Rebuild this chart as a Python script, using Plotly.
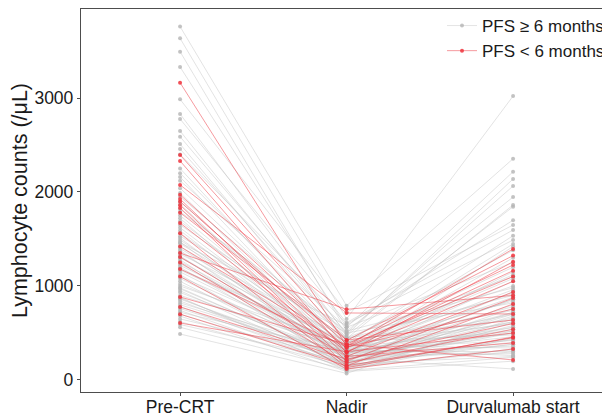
import plotly.graph_objects as go

categories = ["Pre-CRT", "Nadir", "Durvalumab start"]

# PFS >= 6 months (gray)
gray_pre = [3760, 3635, 3493, 3330, 2986, 2830, 2777, 2649, 2588, 2510,
            2457, 2400, 2250, 2200, 2160, 2120, 2040, 1990, 1950, 1900,
            1870, 1820, 1790, 1750, 1720, 1690, 1650, 1620, 1590, 1560,
            1530, 1510, 1490, 1470, 1450, 1420, 1400, 1380, 1360, 1340,
            1320, 1300, 1280, 1260, 1240, 1220, 1200, 1180, 1150, 1120,
            1100, 1080, 1050, 1020, 1000, 980, 950, 930, 900, 880,
            860, 840, 820, 800, 780, 760, 740, 720, 700, 680,
            650, 620, 590, 560, 489, 1460, 1310, 1170, 970, 870]
gray_nadir = [790, 650, 520, 560, 720, 480, 610, 440, 500, 390,
              470, 600, 350, 420, 300, 560, 380, 270, 450, 330,
              250, 400, 520, 300, 190, 360, 440, 280, 230, 350,
              500, 210, 310, 170, 400, 260, 330, 150, 280, 450,
              220, 380, 130, 300, 240, 350, 180, 410, 270, 110,
              320, 230, 160, 290, 370, 200, 140, 260, 330, 100,
              220, 180, 290, 250, 150, 200, 120, 310, 170, 90,
              230, 140, 190, 110, 70, 580, 260, 340, 210, 160]
gray_durva = [2354, 3021, 1947, 2216, 1649, 2138, 1596, 1862, 2064, 1535,
              1844, 1489, 1447, 1380, 1300, 1250, 1200, 1150, 1100, 1080,
              1050, 1000, 980, 960, 940, 920, 900, 880, 860, 840,
              820, 800, 780, 760, 740, 720, 700, 680, 660, 640,
              620, 600, 580, 560, 540, 520, 500, 480, 460, 440,
              420, 400, 380, 360, 340, 320, 300, 280, 260, 240,
              560, 700, 620, 500, 430, 380, 330, 300, 250, 200,
              117, 450, 520, 610, 650, 1700, 1420, 1120, 860, 720]

# PFS < 6 months (red)
red_pre = [3163, 2394, 2330, 2075, 1970, 1925, 1897, 1860, 1830, 1780, 1670,
           1560, 1420, 1309, 1250, 1180, 1100, 883, 777, 700, 606, 1350]
red_nadir = [360, 420, 290, 713, 380, 250, 340, 200, 150, 425, 300,
             130, 360, 250, 180, 350, 117, 380, 220, 150, 300, 752]
red_durva = [1394, 1323, 1259, 702, 1223, 936, 1163, 872, 809, 638, 1050,
             457, 1100, 394, 540, 755, 330, 213, 600, 450, 500, 900]


def build(pre, nad, dur):
    xs, ys = [], []
    for a, b, c in zip(pre, nad, dur):
        xs += categories + [None]
        ys += [a, b, c, None]
    return xs, ys


fig = go.Figure()
gx, gy = build(gray_pre, gray_nadir, gray_durva)
rx, ry = build(red_pre, red_nadir, red_durva)

fig.add_trace(go.Scatter(
    x=gx, y=gy, mode="lines+markers", name="PFS \u2265 6 months",
    line=dict(color="rgba(190,190,190,0.55)", width=0.8),
    marker=dict(color="rgba(180,180,180,0.8)", size=4),
    connectgaps=False))
fig.add_trace(go.Scatter(
    x=rx, y=ry, mode="lines+markers", name="PFS < 6 months",
    line=dict(color="rgba(238,60,70,0.65)", width=0.8),
    marker=dict(color="rgba(238,50,60,0.85)", size=4),
    connectgaps=False))

axis_color = "#4d4d4d"
# page body has an 8px margin; figure is sized to fit the 610x418 window
fig.update_layout(
    width=602, height=410,
    margin=dict(l=73, r=0, t=1, b=26, autoexpand=False),
    paper_bgcolor="white", plot_bgcolor="white",
    font=dict(family="Liberation Sans, Arial, sans-serif", color="#1a1a1a"),
    showlegend=True,
    legend=dict(x=1.0, xanchor="right", y=1.01, yanchor="top",
                xref="paper", yref="container",
                font=dict(size=17, color="#1a1a1a"),
                bgcolor="rgba(255,255,255,0)", tracegroupgap=0,
                itemwidth=30),
)
fig.update_xaxes(
    type="category", categoryorder="array", categoryarray=categories,
    range=[-0.595, 2.582], showgrid=False, zeroline=False, automargin=False,
    showline=True, linecolor=axis_color, linewidth=1.3, mirror=True,
    ticks="outside", ticklen=3, tickcolor=axis_color,
    ticklabelstandoff=-4,
    tickfont=dict(size=17.5, color="#1a1a1a"))
fig.update_yaxes(
    range=[-128, 3947], tickvals=[0, 1000, 2000, 3000],
    showgrid=False, zeroline=False, automargin=False,
    showline=True, linecolor=axis_color, linewidth=1.3, mirror=False,
    ticks="outside", ticklen=3, tickcolor=axis_color,
    tickfont=dict(size=17.5, color="#1a1a1a"),
    title=dict(text="Lymphocyte counts (/\u03bcL)", font=dict(size=21.5, color="#1a1a1a"), standoff=5))

fig.write_html("out.html")
